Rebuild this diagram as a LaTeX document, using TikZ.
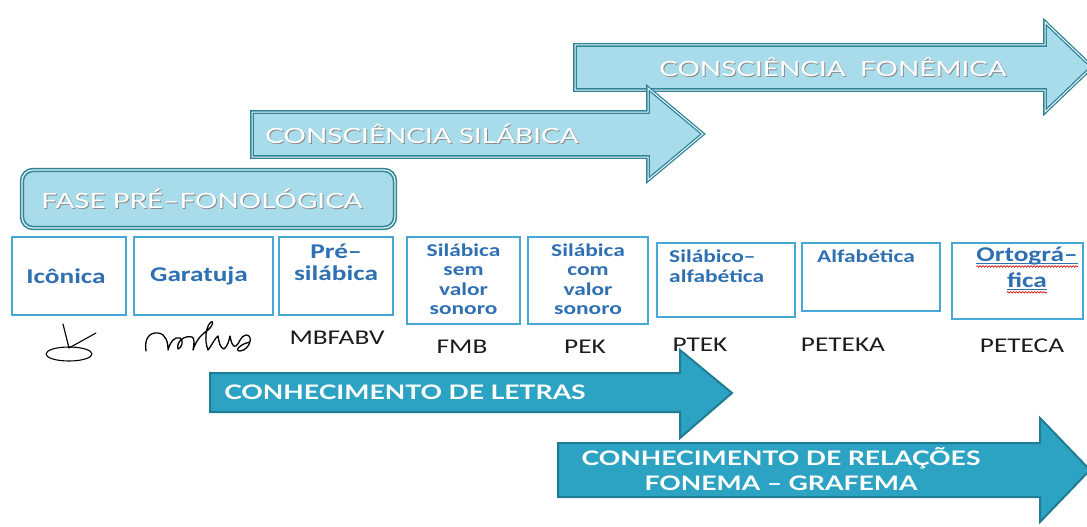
\documentclass[tikz,border=0pt]{standalone}
\usepackage{fontspec}
\setmainfont{Carlito}
\newfontfamily\labfont[FakeStretch=1.3]{Carlito}
\newfontfamily\arrfont[FakeStretch=1.33]{Lato}
\usetikzlibrary{decorations.pathmorphing}
\definecolor{lightfill}{HTML}{A9DCEA}
\definecolor{tealedge}{HTML}{2F8498}
\definecolor{darkfill}{HTML}{2CA3C2}
\definecolor{darkedge}{HTML}{1F7C93}
\definecolor{boxedge}{HTML}{45A8D6}
\definecolor{labblue}{HTML}{2E70B2}
\definecolor{wordcol}{HTML}{1C1C1C}
\tikzset{
  lightarrow/.style={fill=lightfill, draw=tealedge, line width=1.3pt, double=white!80!lightfill, double distance=1pt, line join=miter},
  darkarrow/.style={fill=darkfill, draw=darkedge, line width=2pt, line join=miter},
  stagebox/.style={draw=boxedge, line width=2.6pt, fill=white, inner sep=0pt},
  lab/.style={text=labblue, font=\labfont\bfseries\fontsize{21}{22}\selectfont, align=center, inner sep=0pt},
  smalllab/.style={text=labblue, font=\labfont\bfseries\fontsize{18}{19.5}\selectfont, align=center, inner sep=0pt},
  word/.style={text=wordcol, font=\labfont\fontsize{21}{22}\selectfont, inner sep=0pt},
  arrtext/.style={text=white, font=\arrfont\fontsize{21}{22}\selectfont, inner sep=0pt, align=center},
  arrshadow/.style={text=black!45, font=\arrfont\fontsize{21}{22}\selectfont, inner sep=0pt, align=center},
  darktext/.style={text=white, font=\arrfont\bfseries\fontsize{20}{25}\selectfont, inner sep=0pt, align=center},
  hand/.style={draw=black, line width=1.3pt, line cap=round, line join=round}
}
\begin{document}
\begin{tikzpicture}[x=1pt,y=-1pt]
\useasboundingbox[fill=white] (0,0) rectangle (1087,527);

% Consciencia fonemica arrow
\draw[lightarrow] (575,45) -- (1045,45) -- (1045,22) -- (1092,67) -- (1045,112) -- (1045,90) -- (575,90) -- cycle;
\node[arrshadow] (fonS) at (834,68) {CONSCIÊNCIA\ \ FONÊMICA};
\node[arrtext] (fon) at (833,67) {CONSCIÊNCIA\ \ FONÊMICA};

% Consciencia silabica arrow
\draw[lightarrow] (252,112) -- (648,112) -- (648,88) -- (703,134) -- (648,180) -- (648,157) -- (252,157) -- cycle;
\node[arrshadow] (silS) at (423,135) {CONSCIÊNCIA SILÁBICA};
\node[arrtext] (sil) at (422,134) {CONSCIÊNCIA SILÁBICA};

% Fase pre-fonologica
\node[fill=lightfill, draw=tealedge, line width=1.6pt, double=white!70!lightfill, double distance=1.2pt, rounded corners=11pt, minimum width=373pt, minimum height=58pt] (fase) at (208.5,199) {};
\node[arrshadow] (faseS) at (203,200) {FASE PRÉ–FONOLÓGICA};
\node[arrtext] (faseT) at (202,199) {FASE PRÉ–FONOLÓGICA};

% Stage boxes
\node[stagebox, minimum width=114pt, minimum height=78pt] (b1) at (69,276) {};
\node[stagebox, minimum width=139pt, minimum height=78pt] (b2) at (203.5,276) {};
\node[stagebox, minimum width=114pt, minimum height=78pt] (b3) at (336,276) {};
\node[stagebox, minimum width=113pt, minimum height=87pt] (b4) at (463.5,280.5) {};
\node[stagebox, minimum width=120pt, minimum height=87pt] (b5) at (588,280.5) {};
\node[stagebox, minimum width=138pt, minimum height=74pt] (b6) at (726,280) {};
\node[stagebox, minimum width=138pt, minimum height=68pt] (b7) at (871,277) {};
\node[stagebox, minimum width=131pt, minimum height=76pt] (b8) at (1017.5,281) {};

\node[lab] (t1) at (66,276) {Icônica};
\node[lab] (t2) at (199,276) {Garatuja};
\node[lab] (t3) at (336,262) {Pré–\\silábica};
\node[smalllab] (t4) at (463.5,279) {Silábica\\sem\\valor\\sonoro};
\node[smalllab] (t5) at (588,279) {Silábica\\com\\valor\\sonoro};
\node[smalllab, align=left, anchor=west] (t6) at (669,266) {Silábico–\\alfabética};
\node[smalllab] (t7) at (866,256) {Alfabética};
\node[lab] (t8a) at (1027,256) {Ortográ–};
\node[lab] (t8b) at (1027,280) {fica};
\draw[labblue, line width=0.8pt] ([yshift=-2pt]t8a.base west) -- ([yshift=-2pt]t8a.base east);
\draw[labblue, line width=0.8pt] ([yshift=-2pt]t8b.base west) -- ([yshift=-2pt]t8b.base east);
\draw[red!80!black, line width=0.6pt, decorate, decoration={snake, amplitude=0.8pt, segment length=3pt}] ([yshift=-5pt]t8a.base west) -- ([yshift=-5pt]t8a.base east);
\draw[red!80!black, line width=0.6pt, decorate, decoration={snake, amplitude=0.8pt, segment length=3pt}] ([yshift=-5pt]t8b.base west) -- ([yshift=-5pt]t8b.base east);

% Icon drawing
\coordinate (ic1) at (63,324);
\coordinate (ic2) at (69,348);
\coordinate (ic3) at (96,333);
\draw[hand, line width=1.1pt] (69,354) ellipse [x radius=23pt, y radius=7pt];
\draw[hand, line width=1.1pt] (ic1) -- (ic2) -- (ic3);

% Scribble
\draw[hand] (146,351) .. controls (144,338) and (150,332) .. (158,333)
  .. controls (166,334) and (168,342) .. (168,350)
  .. controls (170,342) and (175,336) .. (180,338)
  .. controls (184,340) and (182,348) .. (178,349)
  .. controls (176,342) and (184,335) .. (192,337)
  .. controls (195,338) and (194,345) .. (193,350)
  .. controls (196,340) and (202,334) .. (208,330)
  .. controls (213,326) and (214,320) .. (211,322)
  .. controls (206,326) and (204,340) .. (208,350)
  .. controls (212,345) and (215,338) .. (218,336)
  .. controls (219,342) and (220,348) .. (224,349)
  .. controls (228,346) and (229,340) .. (230,336)
  .. controls (231,342) and (233,348) .. (236,346)
  .. controls (240,343) and (240,336) .. (246,335)
  .. controls (254,335) and (250,350) .. (240,351)
  .. controls (234,351) and (240,344) .. (250,342);

% Example words
\node[word] (w3) at (337,338) {MBFABV};
\node[word] (w4) at (462,347) {FMB};
\node[word] (w5) at (585,347) {PEK};
\node[word] (w6) at (700,345) {PTEK};
\node[word] (w7) at (843,345) {PETEKA};
\node[word] (w8) at (1022,346) {PETECA};

% Conhecimento de letras
\draw[darkarrow] (210,373) -- (680,373) -- (680,350) -- (732,393) -- (680,438) -- (680,412) -- (210,412) -- cycle;
\node[darktext] (let) at (405,392) {CONHECIMENTO DE LETRAS};

% Conhecimento de relacoes
\draw[darkarrow] (558,443) -- (1040,443) -- (1040,418) -- (1090,470) -- (1040,522) -- (1040,497) -- (558,497) -- cycle;
\node[darktext] (rel) at (781,469) {CONHECIMENTO DE RELAÇÕES\\FONEMA – GRAFEMA};
\end{tikzpicture}
\end{document}
